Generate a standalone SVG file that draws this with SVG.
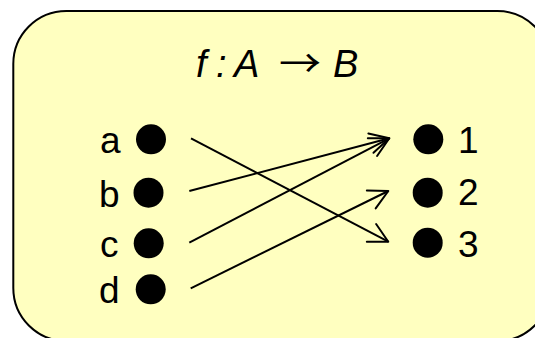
<svg xmlns="http://www.w3.org/2000/svg" width="535" height="338" viewBox="0 0 535 338">
  <style>
    .frame { fill: #FFFFC0; stroke: #000; stroke-width: 2; }
    .dot { fill: #000; }
    .lbl { font-family: "Liberation Sans", Arial, sans-serif; font-size: 37px; fill: #000; }
    .title { font-family: "Liberation Sans", Arial, sans-serif; font-size: 38px; fill: #000; font-style: italic; }
    .arr { font-family: "Noto Sans CJK JP", sans-serif; font-size: 38px; fill: #000; }
    .edge { stroke: #000; stroke-width: 2; fill: none; marker-end: url(#ah); }
  </style>
  <defs>
    <marker id="ah" markerWidth="30" markerHeight="30" viewBox="-25 -15 30 30" refX="0" refY="0" orient="auto" markerUnits="userSpaceOnUse">
      <path d="M-19,-10 L0,0 L-19,10" fill="none" stroke="#000" stroke-width="2" stroke-linejoin="round" stroke-linecap="round"/>
    </marker>
  </defs>
  <rect class="frame" x="13.3" y="11" width="537" height="330" rx="53" ry="53"/>
  <g id="title">
    <text class="title" y="77"><tspan x="196">f</tspan><tspan x="216">:</tspan><tspan x="234">A</tspan></text>
    <text class="arr" x="279" y="77" textLength="42" lengthAdjust="spacingAndGlyphs">→</text>
    <text class="title" x="333" y="77">B</text>
  </g>
  <g id="node-a"><circle class="dot" cx="151" cy="139.3" r="15"/><text class="lbl" x="100" y="153.3">a</text></g>
  <g id="node-b"><circle class="dot" cx="148.5" cy="192.7" r="15"/><text class="lbl" x="99" y="206.7">b</text></g>
  <g id="node-c"><circle class="dot" cx="148.7" cy="243.3" r="15"/><text class="lbl" x="100" y="256.7">c</text></g>
  <g id="node-d"><circle class="dot" cx="150.7" cy="289.3" r="15"/><text class="lbl" x="99" y="302.7">d</text></g>
  <g id="node-1"><circle class="dot" cx="428.3" cy="139.3" r="15"/><text class="lbl" x="458" y="152.7">1</text></g>
  <g id="node-2"><circle class="dot" cx="427.7" cy="192.7" r="15"/><text class="lbl" x="458" y="205">2</text></g>
  <g id="node-3"><circle class="dot" cx="427.7" cy="242.7" r="15"/><text class="lbl" x="458" y="256.7">3</text></g>
  <g id="connectors">
    <line class="edge" x1="191" y1="138.3" x2="388.3" y2="241.7"/>
    <line class="edge" x1="189.3" y1="191" x2="389.3" y2="138.3"/>
    <line class="edge" x1="189.3" y1="242.7" x2="389.3" y2="138.3"/>
    <line class="edge" x1="190.7" y1="288.3" x2="388.3" y2="191"/>
  </g>
</svg>
